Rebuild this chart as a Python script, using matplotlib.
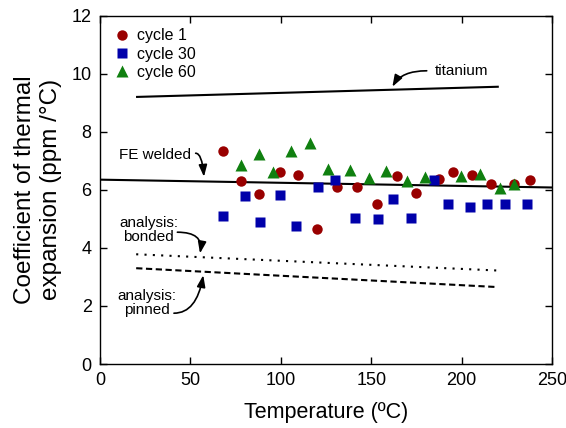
import numpy as np
import matplotlib
matplotlib.use("Agg")
import matplotlib.pyplot as plt

plt.rcParams['font.family'] = ['Liberation Sans', 'DejaVu Sans']

# Datos medidos (temperatura en C, CTE en ppm/C)
t_c1 = [68, 78, 88, 99.5, 109.5, 120, 131, 142, 153, 164, 175, 187.5, 195.5, 206, 216, 229, 238]
a_c1 = [7.35, 6.3, 5.85, 6.6, 6.5, 4.65, 6.08, 6.08, 5.5, 6.48, 5.9, 6.38, 6.6, 6.52, 6.2, 6.2, 6.35]

t_c30 = [68, 80, 88.7, 99.6, 108.5, 120.3, 130.2, 141.1, 154, 162, 172, 184.6, 192.5, 204.4, 214.3, 224.2, 236]
a_c30 = [5.1, 5.78, 4.9, 5.83, 4.76, 6.1, 6.35, 5.03, 5.0, 5.67, 5.03, 6.33, 5.52, 5.42, 5.52, 5.5, 5.52]

t_c60 = [77.8, 87.7, 95.6, 105.5, 116.4, 126.3, 138.2, 149, 158, 169.8, 179.7, 199.5, 210.3, 221.2, 229.1]
a_c60 = [6.85, 7.25, 6.6, 7.32, 7.6, 6.7, 6.68, 6.42, 6.64, 6.3, 6.44, 6.47, 6.55, 6.06, 6.19]

# Lineas de referencia
t_ti = [20.5, 220]
a_ti = [9.2, 9.55]
t_fe = [0, 250]
a_fe = [6.35, 6.08]
t_bond = [20, 220]
a_bond = [3.78, 3.22]
t_pin = [20, 220]
a_pin = [3.3, 2.65]

fig = plt.figure(figsize=(5.66, 4.28), dpi=100)
ax = fig.add_axes([0.1767, 0.1495, 0.7986, 0.814])

ax.plot(t_ti, a_ti, color="black", lw=1.5)
ax.plot(t_fe, a_fe, color="black", lw=1.5)
ax.plot(t_bond, a_bond, color="black", lw=1.5, linestyle=(0, (1, 3)))
ax.plot(t_pin, a_pin, color="black", lw=1.5, linestyle=(0, (3, 1.7)))

ax.plot(t_c1, a_c1, 'o', color="#990000", ms=7.5, mec="none", label="cycle 1")
ax.plot(t_c30, a_c30, 's', color="#0000aa", ms=7, mec="none", label="cycle 30")
ax.plot(t_c60, a_c60, '^', color="#108010", ms=8, mec="none", label="cycle 60")

# Textos de las anotaciones
ax.text(185, 10.1, "titanium", fontsize=11, ha="left", va="center")
ax.text(30.4, 7.2, "FE welded", fontsize=11, ha="center", va="center")
ax.text(27, 4.62, "analysis:\nbonded", fontsize=11, ha="center", va="center", linespacing=1.05)
ax.text(26, 2.1, "analysis:\npinned", fontsize=11, ha="center", va="center", linespacing=1.05)

# Flechas curvas
estilo = "-|>,head_length=0.7,head_width=0.25"
ax.annotate("", xy=(161.7, 9.55), xytext=(180.7, 10.1),
            arrowprops=dict(arrowstyle=estilo, color="black", lw=1.2, shrinkA=0, shrinkB=0,
                            connectionstyle="angle3,angleA=0,angleB=60"))
ax.annotate("", xy=(57.5, 6.45), xytext=(52.9, 7.26),
            arrowprops=dict(arrowstyle=estilo, color="black", lw=1.2, shrinkA=0, shrinkB=0,
                            connectionstyle="angle3,angleA=0,angleB=95"))
ax.annotate("", xy=(55.3, 3.81), xytext=(42.8, 4.54),
            arrowprops=dict(arrowstyle=estilo, color="black", lw=1.2, shrinkA=0, shrinkB=0,
                            connectionstyle="angle3,angleA=0,angleB=80"))
ax.annotate("", xy=(57.1, 3.06), xytext=(40.9, 1.75),
            arrowprops=dict(arrowstyle=estilo, color="black", lw=1.2, shrinkA=0, shrinkB=0,
                            connectionstyle="angle3,angleA=0,angleB=80"))

ax.set_xlim(0, 250)
ax.set_ylim(0, 12)
ax.set_xticks([0, 50, 100, 150, 200, 250])
ax.set_yticks([0, 2, 4, 6, 8, 10, 12])
ax.tick_params(direction="in", top=True, right=True, labelsize=13, length=5, width=1, pad=6)
for s in ax.spines.values():
    s.set_linewidth(1.0)

ax.set_xlabel("Temperature (ºC)", fontsize=15.5, labelpad=9)
ax.set_ylabel("Coefficient of thermal\nexpansion (ppm /°C)", fontsize=17.5, labelpad=7)

ax.legend(loc="upper left", frameon=False, fontsize=11.5, handletextpad=0.3,
          labelspacing=0.2, borderaxespad=0.4, handlelength=1.2)

fig.savefig("out.png", dpi=100)
